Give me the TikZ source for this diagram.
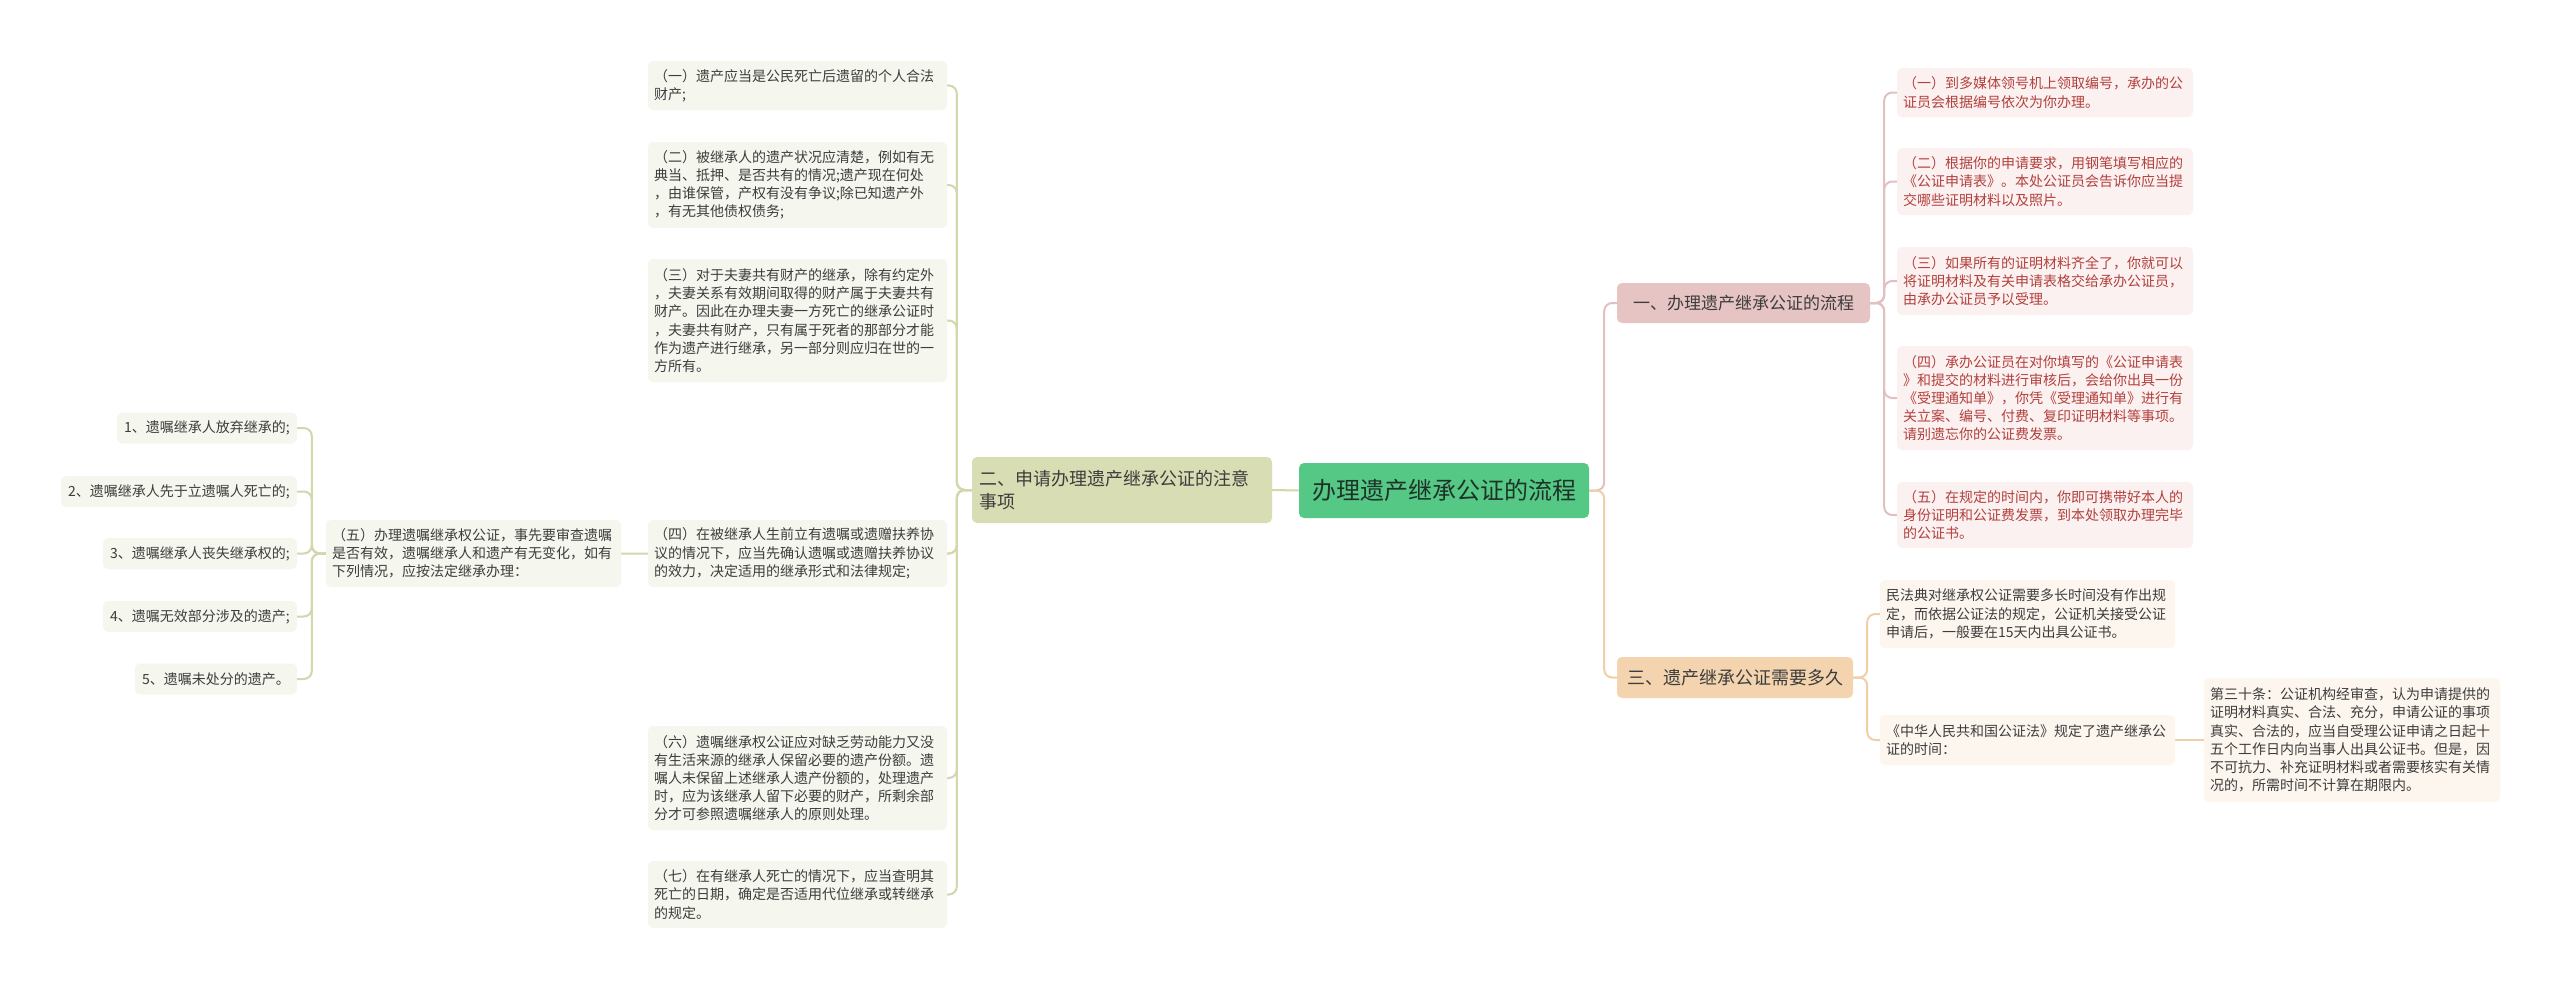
\documentclass[tikz,border=0pt]{standalone}
\usepackage{fontspec}
\setmainfont{Noto Sans CJK SC}
\newcommand\myfs[2]{\fontsize{#1}{#2}\selectfont}
\definecolor{rootfill}{HTML}{55C886}
\definecolor{roottext}{HTML}{1E3327}
\definecolor{twofill}{HTML}{D9DDB3}
\definecolor{onefill}{HTML}{E6C4C4}
\definecolor{threefill}{HTML}{F4D4AF}
\definecolor{lfill}{HTML}{F5F6EE}
\definecolor{ltext}{HTML}{3D3D3D}
\definecolor{pfill}{HTML}{FBF1F1}
\definecolor{ptext}{HTML}{B2403C}
\definecolor{cfill}{HTML}{FDF6EE}
\definecolor{oliveline}{HTML}{D3D7AB}
\definecolor{pinkline}{HTML}{E2C0C0}
\definecolor{peachline}{HTML}{EFCFA8}
\pgfdeclarelayer{bg}
\pgfsetlayers{bg,main}
\tikzset{
  box/.style={rounded corners=5pt, inner xsep=6pt, inner ysep=0pt, align=left, font=\myfs{14}{18.2}},
  lbox/.style={box, fill=lfill, text=ltext},
  pbox/.style={box, fill=pfill, text=ptext},
  cbox/.style={box, fill=cfill, text=ltext},
  leaf/.style={lbox, anchor=east, minimum height=31pt, inner xsep=7pt},
  mainbox/.style={rounded corners=5pt, inner sep=0pt, text=ltext},
  conn/.style={line width=2pt, rounded corners=8pt},
}
\begin{document}
\begin{tikzpicture}[x=1pt,y=-1pt]
\useasboundingbox (0,0) rectangle (2560,990);

% root
\node[mainbox, fill=rootfill, text=roottext, minimum width=290pt, minimum height=55pt, font=\myfs{24}{28}] (root) at (1444,490.5) {办理遗产继承公证的流程};

% left main branch
\node[mainbox, fill=twofill, text width=286pt, inner xsep=7pt, minimum height=66pt, align=left, font=\myfs{18}{23}] (two) at (1122,490) {二、申请办理遗产继承公证的注意\\事项};

\node[lbox, text width=287pt, minimum height=49pt] (m1) at (797.5,85.5) {（一）遗产应当是公民死亡后遗留的个人合法\\财产;};
\node[lbox, text width=287pt, minimum height=86pt] (m2) at (797.5,185) {（二）被继承人的遗产状况应清楚，例如有无\\典当、抵押、是否共有的情况;遗产现在何处\\，由谁保管，产权有没有争议;除已知遗产外\\，有无其他债权债务;};
\node[lbox, text width=287pt, minimum height=123pt] (m3) at (797.5,320.5) {（三）对于夫妻共有财产的继承，除有约定外\\，夫妻关系有效期间取得的财产属于夫妻共有\\财产。因此在办理夫妻一方死亡的继承公证时\\，夫妻共有财产，只有属于死者的那部分才能\\作为遗产进行继承，另一部分则应归在世的一\\方所有。};
\node[lbox, text width=287pt, minimum height=67pt] (m4) at (797.5,553.5) {（四）在被继承人生前立有遗嘱或遗赠扶养协\\议的情况下，应当先确认遗嘱或遗赠扶养协议\\的效力，决定适用的继承形式和法律规定;};
\node[lbox, text width=283pt, minimum height=67pt] (m5) at (473.5,553.5) {（五）办理遗嘱继承权公证，事先要审查遗嘱\\是否有效，遗嘱继承人和遗产有无变化，如有\\下列情况，应按法定继承办理：};
\node[lbox, text width=287pt, minimum height=104pt] (m6) at (797.5,778) {（六）遗嘱继承权公证应对缺乏劳动能力又没\\有生活来源的继承人保留必要的遗产份额。遗\\嘱人未保留上述继承人遗产份额的，处理遗产\\时，应为该继承人留下必要的财产，所剩余部\\分才可参照遗嘱继承人的原则处理。};
\node[lbox, text width=287pt, minimum height=67pt] (m7) at (797.5,894.5) {（七）在有继承人死亡的情况下，应当查明其\\死亡的日期，确定是否适用代位继承或转继承\\的规定。};

\node[leaf] (f1) at (297,428) {1、遗嘱继承人放弃继承的;};
\node[leaf] (f2) at (297,491.5) {2、遗嘱继承人先于立遗嘱人死亡的;};
\node[leaf] (f3) at (297,553.5) {3、遗嘱继承人丧失继承权的;};
\node[leaf] (f4) at (297,616.5) {4、遗嘱无效部分涉及的遗产;};
\node[leaf] (f5) at (297,679) {5、遗嘱未处分的遗产。};

% right upper branch
\node[mainbox, fill=onefill, minimum width=253pt, minimum height=40pt, font=\myfs{17}{21}] (one) at (1743.5,303) {一、办理遗产继承公证的流程};
\node[pbox, text width=284pt, minimum height=49pt] (r1) at (2045,92.5) {（一）到多媒体领号机上领取编号，承办的公\\证员会根据编号依次为你办理。};
\node[pbox, text width=284pt, minimum height=67pt] (r2) at (2045,181.5) {（二）根据你的申请要求，用钢笔填写相应的\\《公证申请表》。本处公证员会告诉你应当提\\交哪些证明材料以及照片。};
\node[pbox, text width=284pt, minimum height=68pt] (r3) at (2045,281) {（三）如果所有的证明材料齐全了，你就可以\\将证明材料及有关申请表格交给承办公证员，\\由承办公证员予以受理。};
\node[pbox, text width=284pt, minimum height=104pt] (r4) at (2045,398) {（四）承办公证员在对你填写的《公证申请表\\》和提交的材料进行审核后，会给你出具一份\\《受理通知单》，你凭《受理通知单》进行有\\关立案、编号、付费、复印证明材料等事项。\\请别遗忘你的公证费发票。};
\node[pbox, text width=284pt, minimum height=66pt] (r5) at (2045,515) {（五）在规定的时间内，你即可携带好本人的\\身份证明和公证费发票，到本处领取办理完毕\\的公证书。};

% right lower branch
\node[mainbox, fill=threefill, minimum width=236pt, minimum height=41pt, font=\myfs{18}{22}] (three) at (1735,677.5) {三、遗产继承公证需要多久};
\node[cbox, text width=283pt, minimum height=68pt] (tA) at (2027.5,614) {民法典对继承权公证需要多长时间没有作出规\\定，而依据公证法的规定，公证机关接受公证\\申请后，一般要在15天内出具公证书。};
\node[cbox, text width=283pt, minimum height=50pt] (tB) at (2027.5,740) {《中华人民共和国公证法》规定了遗产继承公\\证的时间：};
\node[cbox, text width=284pt, minimum height=124pt] (tC) at (2352,740) {第三十条：公证机构经审查，认为申请提供的\\证明材料真实、合法、充分，申请公证的事项\\真实、合法的，应当自受理公证申请之日起十\\五个工作日内向当事人出具公证书。但是，因\\不可抗力、补充证明材料或者需要核实有关情\\况的，所需时间不计算在期限内。};

\begin{pgfonlayer}{bg}
\fill[white] (0,0) rectangle (2560,990);
\draw[conn, oliveline] (root.west) -- (two.east);
\foreach \n in {m1,m2,m3,m4,m5,m6,m7}
  \draw[conn, oliveline] (two.west) -- ++(-15,0) |- (\n.east);
\foreach \n in {f1,f2,f3,f4,f5}
  \draw[conn, oliveline] (m5.west) -- ++(-14,0) |- (\n.east);
\draw[conn, pinkline] (root.east) -- ++(15,0) |- (one.west);
\draw[conn, peachline] (root.east) -- ++(15,0) |- (three.west);
\foreach \n in {r1,r2,r3,r4,r5}
  \draw[conn, pinkline] (one.east) -- ++(14,0) |- (\n.west);
\foreach \n in {tA,tB}
  \draw[conn, peachline] (three.east) -- ++(14,0) |- (\n.west);
\draw[conn, peachline] (tB.east) -- (tC.west);
\end{pgfonlayer}
\end{tikzpicture}
\end{document}
